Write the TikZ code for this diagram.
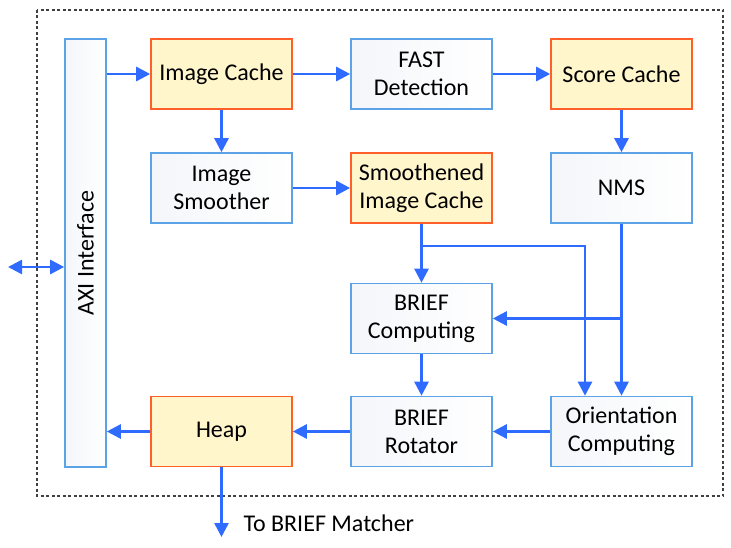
\documentclass[tikz,border=0pt]{standalone}
\usepackage{fontspec}
\setmainfont{Carlito}
\usepackage{tikz}
\usetikzlibrary{arrows.meta}

\definecolor{boxblue}{HTML}{5BA3E6}
\definecolor{boxorange}{HTML}{FF5F2A}
\definecolor{cachefill}{HTML}{FFF6CC}
\definecolor{arrowblue}{HTML}{2F6BFF}
\definecolor{shadeblue}{HTML}{F4F6FA}

\begin{document}
\begin{tikzpicture}[
            x=1pt, y=-1pt,
            >={Triangle[length=14pt,width=14pt]},
            block/.style={draw=boxblue, line width=1.6pt, left color=shadeblue, right color=white,
                          minimum width=141pt, minimum height=70pt, align=center,
                          font=\fontsize{24}{28}\selectfont},
            cache/.style={block, draw=boxorange, left color=cachefill, right color=cachefill},
            arr/.style={draw=arrowblue, line width=2.6pt, ->},
            ]
            \useasboundingbox (0,0) rectangle (731,548);

            % outer frame
            \draw[line width=1.4pt, draw=black!75, dash pattern=on 3pt off 2.5pt] (37,10) rectangle (723,496);

            % bus interface (rotated: north side faces left, south side faces right)
            \node[block, rotate=90, minimum width=428pt, minimum height=41pt] (axi) at (85.5,253) {AXI Interface};

            \node[cache] (icache) at (221.5,74) {Image Cache};
            \node[block] (fast) at (421.5,74) {FAST\\Detection};
            \node[cache] (score) at (621.5,74) {Score Cache};
            \node[block] (smoother) at (221.5,188) {Image\\Smoother};
            \node[cache] (scache) at (421.5,188) {Smoothened\\Image Cache};
            \node[block] (nms) at (621.5,188) {NMS};
            \node[block] (bcomp) at (421.5,318.5) {BRIEF\\Computing};
            \node[block] (brot) at (421.5,431.5) {BRIEF\\Rotator};
            \node[block] (orient) at (621.5,431.5) {Orientation\\Computing};
            \node[cache] (heap) at (221.5,431.5) {Heap};

            \coordinate (ext) at (8,267);
            \coordinate (tap) at (421.5,246);
            \coordinate (out) at (221.5,537);
            \node[anchor=west, font=\fontsize{24}{28}\selectfont] (outlabel) at (240,523) {To BRIEF Matcher};

            \draw[arr, <->] (ext) -- (axi.north |- ext);
            \draw[arr] (axi.south |- icache) -- (icache);
            \draw[arr] (icache) -- (fast);
            \draw[arr] (fast) -- (score);
            \draw[arr] (icache) -- (smoother);
            \draw[arr] (smoother) -- (scache);
            \draw[arr] (score) -- (nms);
            \draw[arr] (scache) -- (bcomp);
            \draw[arr] (tap) -| ([xshift=-36.5pt]orient.north);
            \draw[arr] (nms) -- (orient);
            \draw[arr] (nms.south |- bcomp) -- (bcomp);
            \draw[arr] (bcomp) -- (brot);
            \draw[arr] (orient) -- (brot);
            \draw[arr] (brot) -- (heap);
            \draw[arr] (heap) -- (axi.south |- heap);
            \draw[arr] (heap) -- (out);
        \end{tikzpicture}
\end{document}
